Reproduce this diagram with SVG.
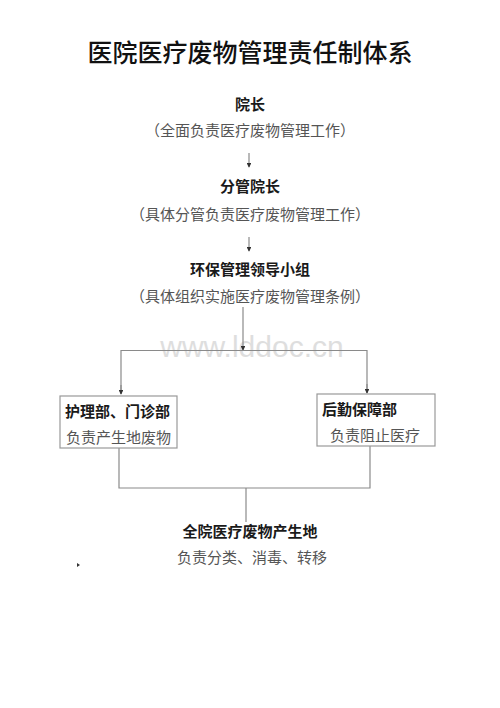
<svg xmlns="http://www.w3.org/2000/svg" width="500" height="708" viewBox="0 0 500 708">
<defs>
<style>
.title{font-family:"Noto Sans CJK SC","Liberation Sans",sans-serif;font-size:25px;font-weight:500;fill:#111;text-anchor:middle}
.h{font-family:"Noto Sans CJK SC","Liberation Sans",sans-serif;font-size:15px;font-weight:bold;fill:#1a1a1a}
.s{font-family:"Noto Sans CJK SC","Liberation Serif",sans-serif;font-size:15px;fill:#555}
.c{text-anchor:middle}
.line{stroke:#8a8a8a;stroke-width:1.2;fill:none}
.box{stroke:#999;stroke-width:1.2;fill:#fff}
.wm{font-family:"Liberation Sans",sans-serif;font-size:30px;fill:#dedede;text-anchor:middle}
</style>
<marker id="ah" viewBox="0 0 6 6" refX="5" refY="3" markerWidth="4" markerHeight="4" orient="auto">
<path d="M0,0 L6,3 L0,6 Z" fill="#333"/>
</marker>
</defs>
<rect width="500" height="708" fill="#fff"/>
<text class="title" x="250" y="62">医院医疗废物管理责任制体系</text>
<text class="wm" x="252" y="357">www.lddoc.cn</text>
<g id="connectors">
<line class="line" x1="249" y1="153" x2="249" y2="167" marker-end="url(#ah)"/>
<line class="line" x1="249" y1="237" x2="249" y2="251" marker-end="url(#ah)"/>
<line class="line" x1="243" y1="307" x2="243" y2="350" marker-end="url(#ah)"/>
<polyline class="line" points="121,394 121,350.5 367,350.5 367,393" />
<line class="line" x1="121" y1="385" x2="121" y2="394" marker-end="url(#ah)"/>
<line class="line" x1="367" y1="384" x2="367" y2="393" marker-end="url(#ah)"/>
<polyline class="line" points="119,448 119,488 370,488 370,446"/>
<line class="line" x1="246" y1="488" x2="246" y2="522"/>
</g>
<g id="n-yuanzhang">
<text class="h c" x="250" y="110">院长</text>
<text class="s c" x="250" y="136">（全面负责医疗废物管理工作）</text>
</g>
<g id="n-fenguan">
<text class="h c" x="250" y="192">分管院长</text>
<text class="s c" x="250" y="220">（具体分管负责医疗废物管理工作）</text>
</g>
<g id="n-huanbao">
<text class="h c" x="250" y="275">环保管理领导小组</text>
<text class="s c" x="250" y="302">（具体组织实施医疗废物管理条例）</text>
</g>
<g id="n-huli">
<rect class="box" x="60" y="396" width="117" height="52"/>
<text class="h" x="65" y="417">护理部、门诊部</text>
<text class="s" x="66" y="443">负责产生地废物</text>
</g>
<g id="n-houqin">
<rect class="box" x="317" y="394" width="118" height="52"/>
<text class="h" x="322" y="415">后勤保障部</text>
<text class="s" x="330" y="441">负责阻止医疗</text>
</g>
<g id="n-quanyuan">
<text class="h c" x="250" y="537">全院医疗废物产生地</text>
<text class="s c" x="252" y="563">负责分类、消毒、转移</text>
</g>
<path d="M77,563 L80,565 L77,567 Z" fill="#333"/>
</svg>
